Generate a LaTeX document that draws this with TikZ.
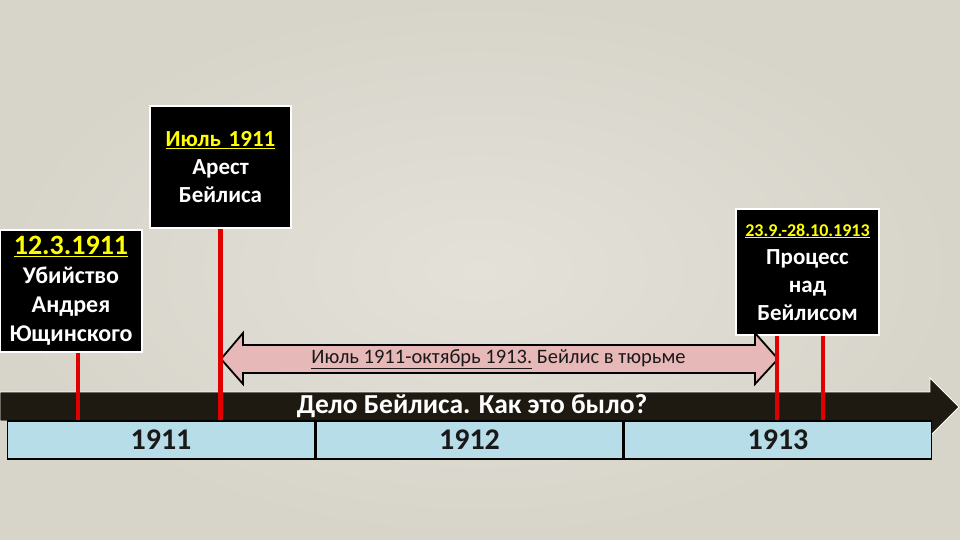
\documentclass[tikz,border=0pt]{standalone}
\usepackage{fontspec}
\setmainfont{Carlito}
\usetikzlibrary{positioning}
\definecolor{bgpaper}{RGB}{215,212,202}
\definecolor{bgpaperlight}{RGB}{228,225,217}
\definecolor{bandbrown}{RGB}{30,26,18}
\definecolor{yearblue}{RGB}{183,221,232}
\definecolor{jailpink}{RGB}{230,184,183}
\definecolor{markred}{RGB}{225,0,0}
\definecolor{dateyellow}{RGB}{255,255,0}
\newcommand{\evdate}[1]{\textcolor{dateyellow}{\underline{#1}}}
\tikzset{eventbox/.style={
		draw=white,
		line width=1.5pt,
		fill=black,
		text=white,
		align=center,
		inner sep=0pt,
		font=\bfseries\fontsize{23}{28}\selectfont},
	yearcell/.style={
		draw=black,
		line width=1.5pt,
		fill=yearblue,
		minimum width=307pt,
		minimum height=38pt,
		inner sep=0pt,
		text=black!90,
		font=\bfseries\fontsize{30}{30}\selectfont},
	marker/.style={markred, line width=4.5pt}}

\begin{document}
\begin{tikzpicture}[x=1pt,y=-1pt]
				\fill[inner color=bgpaperlight, outer color=bgpaper] (0,0) rectangle (960,540);
				\useasboundingbox (0,0) rectangle (960,540);
				
				\node[eventbox, text width=141pt, minimum height=122pt] (arrest) at (220.5,167) {\evdate{Июль 1911}\\Арест\\Бейлиса};
				\node[eventbox, text width=142pt, minimum height=122pt, font=\bfseries\fontsize{24}{29}\selectfont] (murder) at (71,291) {{\fontsize{28}{30}\selectfont\evdate{12.3.1911}}\\Убийство\\Андрея\\Ющинского};
				\node[eventbox, text width=143pt, minimum height=126pt] (trial) at (807.5,272) {{\fontsize{18}{22}\selectfont\evdate{23.9.-28.10.1913}}\\Процесс\\над\\Бейлисом};
				
				% time band with arrow head
				\draw[fill=bandbrown, draw=white, line width=0.8pt] (0,392) -- (930,392) -- (930,378) -- (959,407) -- (930,436) -- (930,421) -- (0,421) -- cycle;
				\coordinate (axis) at (0,421);
				
				% prison term
				\draw[fill=jailpink, draw=black, line width=1.8pt, line join=miter] (221,359) -- (243,333) -- (243,345) -- (755,345) -- (755,333) -- (778,359) -- (755,384) -- (755,373) -- (243,373) -- (243,384) -- cycle;
				\node[font=\fontsize{20.5}{22}\selectfont, text=black!90] (jail) at (498.5,359) {\underline{Июль 1911-октябрь 1913.} Бейлис в тюрьме};
				
				\draw[marker] (murder.south -| 78,0) -- (axis -| 78,0);
				\draw[marker] (arrest.south) -- (arrest.south |- axis);
				\draw[marker] ([xshift=-30.5pt]trial.south) -- ([xshift=-30.5pt]trial.south |- axis);
				\draw[marker] ([xshift=15.5pt]trial.south) -- ([xshift=15.5pt]trial.south |- axis);
				
				\node[yearcell] (y1911) at (161,440) {1911};
				\node[yearcell, right=0pt of y1911] (y1912) {1912};
				\node[yearcell, right=0pt of y1912] (y1913) {1913};
				
				\node[text=white, font=\bfseries\fontsize{27.5}{30}\selectfont] (title) at (472,406) {Дело Бейлиса. Как это было?};
			\end{tikzpicture}
\end{document}
